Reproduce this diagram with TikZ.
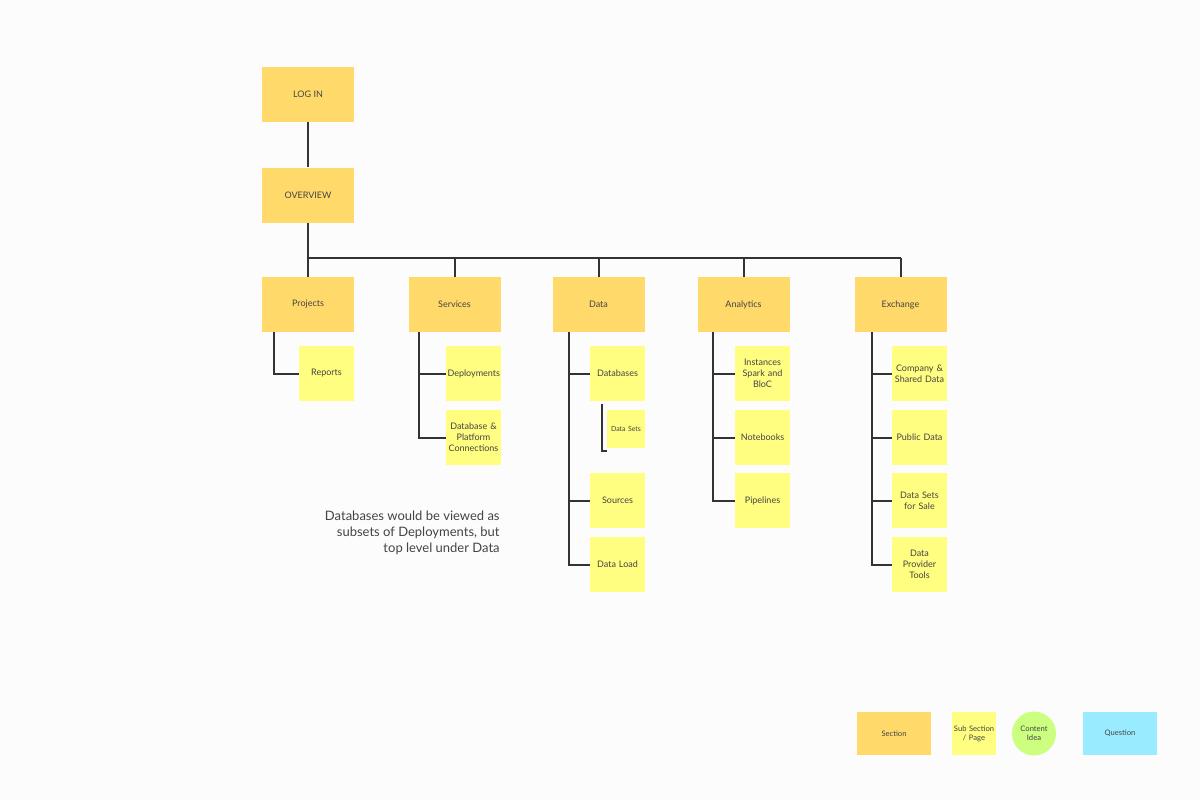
\documentclass[tikz,border=0pt]{standalone}
\usepackage{fontspec}
\setmainfont{Lato}
\definecolor{secC}{HTML}{FFDA6A}
\definecolor{subC}{HTML}{FFFE80}
\definecolor{ideaC}{HTML}{CCFF80}
\definecolor{qC}{HTML}{99ECFF}
\definecolor{lnC}{HTML}{333333}
\definecolor{txC}{HTML}{444444}
\definecolor{bgC}{HTML}{FCFCFC}
\begin{document}
\begin{tikzpicture}[x=0.5pt,y=-0.5pt,
  every node/.style={font=\fontsize{4.5}{5.5}\selectfont, text=txC, align=center, inner sep=0pt},
  sec/.style={fill=secC, minimum width=46pt, minimum height=27.5pt},
  sub/.style={fill=subC, minimum width=27.5pt, minimum height=27.5pt, text width=26pt},
  conn/.style={draw=lnC, line width=1pt}]
\fill[bgC] (0,0) rectangle (1200,800);
\useasboundingbox (0,0) rectangle (1200,800);
\node[sec] (login) at (308,94.5) {LOG IN};
\node[sec] (overview) at (308,195) {OVERVIEW};
\node[sec] (projects) at (308,304.5) {Projects};
\node[sec] (services) at (454.5,304.5) {Services};
\node[sec] (data) at (598.5,304.5) {Data};
\node[sec] (analytics) at (743.5,304.5) {Analytics};
\node[sec] (exchange) at (900.5,304.5) {Exchange};
\node[sub] (reports) at (326.5,373.5) {Reports};
\node[sub] (deploy) at (473.5,373.5) {Deployments};
\node[sub] (dbpc) at (473.5,437.5) {Database \&\\Platform\\Connections};
\node[sub] (databases) at (617.5,373.5) {Databases};
\node[sub, minimum width=19pt, minimum height=19pt, text width=18pt, font=\fontsize{3.5}{4.5}\selectfont] (datasets) at (626,429) {Data Sets};
\node[sub] (sources) at (617.5,500.5) {Sources};
\node[sub] (dataload) at (617.5,564.5) {Data Load};
\node[sub] (instances) at (762.5,373.5) {Instances\\Spark and\\BloC};
\node[sub] (notebooks) at (762.5,437.5) {Notebooks};
\node[sub] (pipelines) at (762.5,500.5) {Pipelines};
\node[sub] (company) at (919.5,373.5) {Company \&\\Shared Data};
\node[sub] (public) at (919.5,437.5) {Public Data};
\node[sub] (sale) at (919.5,500.5) {Data Sets\\for Sale};
\node[sub] (tools) at (919.5,564.5) {Data\\Provider\\Tools};
\node[font=\fontsize{6.5}{7.8}\selectfont, align=right, anchor=north east] (note) at (500,511) {Databases would be viewed as\\subsets of Deployments, but\\top level under Data};
% legend
\node[sec, minimum width=37pt, minimum height=21.5pt, font=\fontsize{3.8}{4.6}\selectfont] (lsec) at (894,733.5) {Section};
\node[sub, minimum width=22pt, minimum height=21.5pt, text width=22pt, font=\fontsize{3.8}{4.6}\selectfont] (lsub) at (974,733.5) {Sub Section\\/ Page};
\node[circle, fill=ideaC, minimum size=22pt, font=\fontsize{3.8}{4.6}\selectfont] (lidea) at (1034,733.5) {Content\\Idea};
\node[fill=qC, minimum width=37pt, minimum height=21.5pt, font=\fontsize{3.8}{4.6}\selectfont] (lq) at (1120,733.5) {Question};
% connectors
\draw[conn] (login) -- (overview);
\coordinate (barL) at (overview.south |- 0,258);
\draw[conn] (overview.south) -- (barL) -- (barL -| exchange.north);
\foreach \s in {projects,services,data,analytics,exchange}
  \draw[conn] (\s.north) -- (\s.north |- barL);
\coordinate (pt) at ([xshift=6pt]projects.south west);
\draw[conn] (pt) |- (reports.west);
\coordinate (st) at ([xshift=5.5pt]services.south west);
\draw[conn] (st) |- (dbpc.west);
\draw[conn] (deploy.west) -- (deploy.west -| st);
\coordinate (dt) at ([xshift=8.5pt]data.south west);
\draw[conn] (dt) |- (dataload.west);
\foreach \c in {databases,sources} \draw[conn] (\c.west) -- (\c.west -| dt);
\draw[conn] ([xshift=6pt,yshift=-1.5pt]databases.south west) |- ([yshift=-1.5pt]datasets.south west);
\coordinate (at) at ([xshift=8pt]analytics.south west);
\draw[conn] (at) |- (pipelines.west);
\foreach \c in {instances,notebooks} \draw[conn] (\c.west) -- (\c.west -| at);
\coordinate (et) at ([xshift=9pt]exchange.south west);
\draw[conn] (et) |- (tools.west);
\foreach \c in {company,public,sale} \draw[conn] (\c.west) -- (\c.west -| et);
\end{tikzpicture}
\end{document}
